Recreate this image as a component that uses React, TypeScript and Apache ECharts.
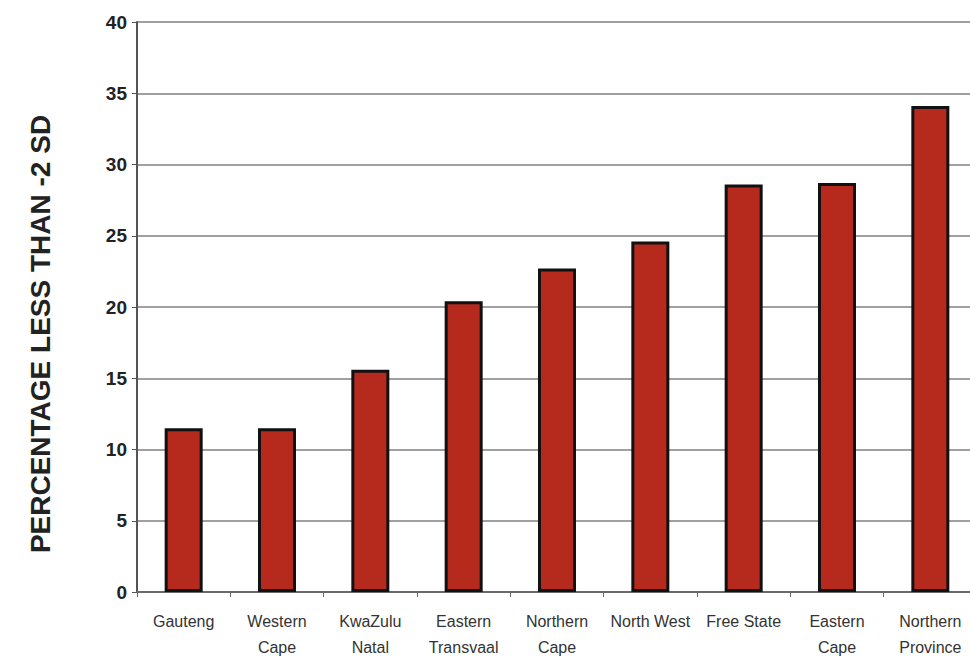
import React, { useEffect, useRef } from "react";
import * as echarts from "echarts";

const provinces = [
  "Gauteng",
  "Western\nCape",
  "KwaZulu\nNatal",
  "Eastern\nTransvaal",
  "Northern\nCape",
  "North West",
  "Free State",
  "Eastern\nCape",
  "Northern\nProvince",
];
const percentBelow2SD = [11.5, 11.5, 15.6, 20.4, 22.7, 24.6, 28.6, 28.7, 34.1];
const yTicks = { min: 0, max: 40, interval: 5 };
const yTitle = "PERCENTAGE LESS THAN -2 SD";

const FONT = "Liberation Sans, Arial, sans-serif";

export default function App() {
  const ref = useRef<HTMLDivElement>(null);
  useEffect(() => {
    document.body.style.margin = "0";
    if (!ref.current) return;
    const chart = echarts.init(ref.current, undefined, { renderer: "svg" });
    chart.setOption({
      animation: false,
      backgroundColor: "#ffffff",
      grid: {
        left: 137,
        top: 22,
        width: 840,
        height: 570,
        outerBoundsMode: "none",
      },
      xAxis: {
        type: "category",
        data: provinces,
        boundaryGap: true,
        axisLine: { lineStyle: { color: "#6a6a6a", width: 2 } },
        axisTick: { show: true, length: 5, lineStyle: { color: "#6a6a6a" } },
        axisLabel: {
          interval: 0,
          fontFamily: FONT,
          fontSize: 16,
          color: "#333333",
          lineHeight: 26,
          margin: 16,
        },
      },
      yAxis: {
        type: "value",
        min: yTicks.min,
        max: yTicks.max,
        interval: yTicks.interval,
        axisLine: { show: true, lineStyle: { color: "#555555", width: 2 } },
        axisTick: { show: true, length: 5, lineStyle: { color: "#555555" } },
        axisLabel: {
          fontFamily: FONT,
          fontSize: 19,
          fontWeight: "bold",
          color: "#222222",
          margin: 10,
        },
        splitLine: { show: true, lineStyle: { color: "#808080", width: 1.5 } },
      },
      graphic: [
        {
          type: "text",
          x: 40,
          y: 334,
          rotation: Math.PI / 2,
          style: {
            text: yTitle,
            fontFamily: FONT,
            fontSize: 28,
            fontWeight: "bold",
            fill: "#222222",
            align: "center",
            verticalAlign: "middle",
          },
        },
      ],
      series: [
        {
          type: "bar",
          data: percentBelow2SD,
          barWidth: 38,
          itemStyle: {
            color: "#b52a1d",
            borderColor: "#111111",
            borderWidth: 3,
          },
        },
      ],
    });
    return () => chart.dispose();
  }, []);
  return <div ref={ref} style={{ width: 970, height: 657 }} />;
}
